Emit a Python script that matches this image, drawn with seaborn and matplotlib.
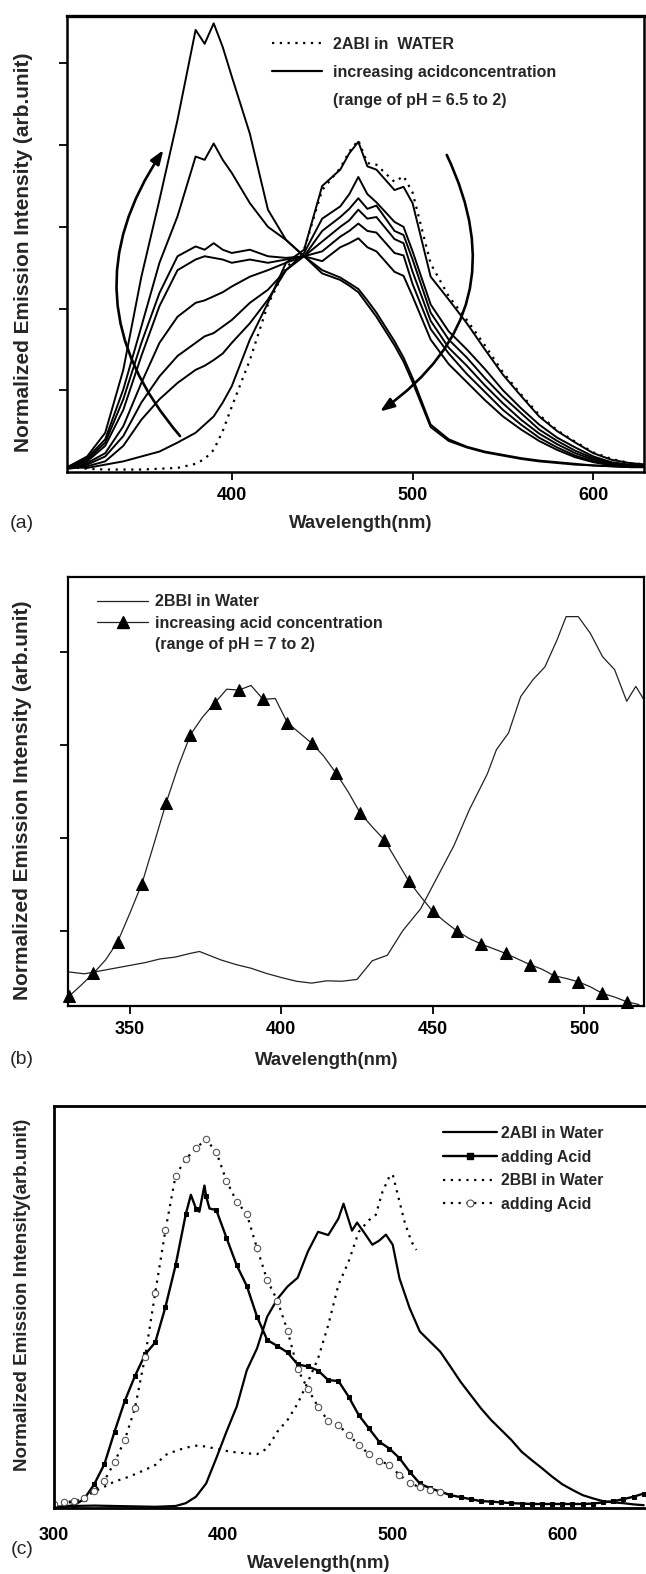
import matplotlib
matplotlib.use("Agg")
import matplotlib.pyplot as plt
import seaborn as sns
from matplotlib.lines import Line2D
from matplotlib.patches import FancyArrowPatch

# ---------- panel (a): 2ABI, water + increasing acid ----------
wl_a = [310, 320, 330, 340, 350, 360, 370, 380, 385, 390, 395, 400, 410, 420, 430, 440,
        450, 460, 465, 470, 475, 480, 490, 495, 500, 510, 520, 530, 540, 550, 560, 570,
        580, 590, 600, 610, 620, 630]

abi_water = [0.06, 0.04, 0.03, 0.03, 0.03, 0.04, 0.05, 0.10, 0.16, 0.27, 0.50, 0.80, 1.37, 2.05,
             2.50, 2.72, 3.45, 3.72, 3.92, 4.06, 3.78, 3.76, 3.55, 3.62, 3.42, 2.55, 2.15, 1.86,
             1.55, 1.22, 0.95, 0.70, 0.51, 0.37, 0.24, 0.16, 0.11, 0.09]

abi_acid_1 = [0.07, 0.19, 0.48, 1.25, 2.39, 3.33, 4.31, 5.41, 5.24, 5.49, 5.20, 4.84, 4.14, 3.21,
              2.84, 2.64, 2.43, 2.35, 2.28, 2.20, 2.05, 1.90, 1.55, 1.35, 1.10, 0.55, 0.38, 0.30,
              0.24, 0.20, 0.16, 0.13, 0.11, 0.09, 0.08, 0.07, 0.06, 0.06]
abi_acid_2 = [0.07, 0.17, 0.40, 1.01, 1.78, 2.56, 3.13, 3.86, 3.82, 4.02, 3.82, 3.66, 3.29, 3.00,
              2.84, 2.64, 2.47, 2.38, 2.31, 2.24, 2.10, 1.95, 1.60, 1.40, 1.15, 0.58, 0.40, 0.31,
              0.25, 0.21, 0.17, 0.14, 0.12, 0.10, 0.08, 0.07, 0.06, 0.06]
abi_acid_3 = [0.06, 0.15, 0.36, 0.89, 1.58, 2.19, 2.64, 2.76, 2.72, 2.80, 2.72, 2.68, 2.72, 2.64,
              2.62, 2.64, 2.58, 2.75, 2.80, 2.86, 2.75, 2.70, 2.45, 2.40, 2.15, 1.62, 1.32, 1.10,
              0.88, 0.68, 0.52, 0.38, 0.27, 0.18, 0.12, 0.08, 0.06, 0.06]
abi_acid_4 = [0.06, 0.13, 0.32, 0.76, 1.42, 2.03, 2.47, 2.60, 2.64, 2.62, 2.60, 2.56, 2.60, 2.56,
              2.60, 2.64, 2.70, 2.88, 2.95, 3.04, 2.95, 2.93, 2.68, 2.65, 2.30, 1.75, 1.45, 1.20,
              0.98, 0.76, 0.58, 0.42, 0.30, 0.20, 0.13, 0.09, 0.07, 0.06]
abi_acid_5 = [0.05, 0.11, 0.23, 0.56, 1.09, 1.58, 1.90, 2.07, 2.10, 2.15, 2.20, 2.27, 2.39, 2.47,
              2.56, 2.64, 2.82, 3.00, 3.08, 3.21, 3.10, 3.12, 2.85, 2.80, 2.45, 1.85, 1.52, 1.30,
              1.06, 0.84, 0.64, 0.47, 0.34, 0.23, 0.15, 0.10, 0.07, 0.07]
abi_acid_6 = [0.05, 0.09, 0.19, 0.44, 0.85, 1.17, 1.42, 1.58, 1.66, 1.70, 1.78, 1.86, 2.07, 2.23,
              2.47, 2.64, 2.95, 3.12, 3.22, 3.35, 3.22, 3.26, 2.95, 2.90, 2.60, 1.95, 1.62, 1.40,
              1.15, 0.92, 0.72, 0.52, 0.38, 0.26, 0.17, 0.11, 0.08, 0.07]
abi_acid_7 = [0.04, 0.07, 0.13, 0.32, 0.64, 0.89, 1.09, 1.25, 1.30, 1.37, 1.45, 1.58, 1.82, 2.11,
              2.47, 2.68, 3.10, 3.25, 3.40, 3.61, 3.40, 3.30, 3.06, 3.00, 2.70, 2.05, 1.72, 1.50,
              1.26, 1.00, 0.78, 0.58, 0.42, 0.30, 0.19, 0.12, 0.09, 0.08]
abi_acid_8 = [0.06, 0.05, 0.09, 0.13, 0.19, 0.25, 0.36, 0.48, 0.58, 0.68, 0.85, 1.05, 1.62, 2.07,
              2.56, 2.72, 3.50, 3.70, 3.90, 4.04, 3.74, 3.70, 3.45, 3.49, 3.29, 2.39, 2.11, 1.82,
              1.50, 1.19, 0.93, 0.68, 0.50, 0.36, 0.23, 0.15, 0.11, 0.09]
abi_acid_curves = [abi_acid_1, abi_acid_2, abi_acid_3, abi_acid_4,
                   abi_acid_5, abi_acid_6, abi_acid_7, abi_acid_8]

# ---------- panel (b): 2BBI, water + increasing acid ----------
wl_b_water = [330, 335, 340, 345, 350, 355, 360, 365, 370, 373, 380, 385, 390, 395, 400, 405,
              410, 415, 420, 425, 430, 435, 440, 446, 451, 457, 462, 468, 471, 475, 479, 483,
              487, 491, 494, 498, 502, 506, 510, 514, 517, 520]
bbi_water_b = [0.56, 0.54, 0.57, 0.60, 0.63, 0.66, 0.70, 0.72, 0.76, 0.78, 0.69, 0.64, 0.60, 0.545,
               0.50, 0.46, 0.44, 0.465, 0.46, 0.48, 0.68, 0.74, 1.00, 1.24, 1.55, 1.92, 2.30, 2.69,
               2.95, 3.13, 3.52, 3.70, 3.84, 4.13, 4.38, 4.38, 4.20, 3.95, 3.81, 3.47, 3.63, 3.47]

wl_b_acid = [330, 334, 338, 342, 346, 350, 354, 358, 362, 366, 370, 374, 378, 382, 386, 390,
             394, 398, 402, 406, 410, 414, 418, 422, 426, 430, 434, 438, 442, 446, 450, 454,
             458, 462, 466, 470, 474, 478, 482, 486, 490, 494, 498, 502, 506, 510, 514, 518]
bbi_acid_b = [0.30, 0.42, 0.545, 0.69, 0.885, 1.19, 1.51, 1.94, 2.38, 2.77, 3.11, 3.30, 3.45, 3.60,
              3.59, 3.64, 3.49, 3.50, 3.24, 3.13, 3.02, 2.88, 2.70, 2.50, 2.27, 2.12, 1.98, 1.76,
              1.54, 1.37, 1.21, 1.10, 1.00, 0.92, 0.86, 0.81, 0.76, 0.70, 0.64, 0.59, 0.52, 0.49,
              0.455, 0.40, 0.33, 0.29, 0.24, 0.21]

# ---------- panel (c): both molecules ----------
wl_c_abi_water = [300, 312, 324, 336, 348, 360, 372, 378, 384, 390, 396, 402, 408, 414, 420, 426,
                  432, 438, 444, 450, 456, 462, 468, 471, 476, 479, 484, 488, 492, 496, 500, 504,
                  510, 516, 522, 528, 534, 540, 546, 552, 558, 564, 570, 576, 582, 588, 594, 600,
                  606, 612, 618, 624, 630, 636, 642, 648]
abi_water_c = [0.003, 0.005, 0.006, 0.005, 0.004, 0.003, 0.005, 0.012, 0.028, 0.061, 0.124, 0.190,
               0.252, 0.343, 0.397, 0.476, 0.520, 0.551, 0.573, 0.638, 0.687, 0.679, 0.720, 0.757,
               0.690, 0.710, 0.680, 0.655, 0.665, 0.680, 0.655, 0.571, 0.497, 0.439, 0.414, 0.389,
               0.352, 0.314, 0.281, 0.248, 0.219, 0.194, 0.169, 0.140, 0.119, 0.099, 0.078, 0.059,
               0.045, 0.032, 0.024, 0.017, 0.014, 0.012, 0.009, 0.007]

wl_c_abi_acid = [300, 306, 312, 318, 324, 330, 336, 342, 348, 354, 360, 366, 372, 378, 381, 384,
                 386, 389, 390, 392, 396, 402, 408, 414, 420, 426, 432, 438, 444, 450, 456, 462,
                 468, 474, 480, 486, 492, 498, 504, 510, 516, 522, 528, 534, 540, 546, 552, 558,
                 564, 570, 576, 582, 588, 594, 600, 606, 612, 618, 624, 630, 636, 642, 648]
abi_acid_c = [0.001, 0.003, 0.007, 0.022, 0.059, 0.109, 0.190, 0.266, 0.328, 0.382, 0.412, 0.500,
              0.604, 0.731, 0.779, 0.745, 0.737, 0.802, 0.775, 0.745, 0.741, 0.672, 0.604, 0.552,
              0.476, 0.418, 0.403, 0.387, 0.357, 0.352, 0.342, 0.318, 0.316, 0.277, 0.231, 0.198,
              0.165, 0.148, 0.124, 0.090, 0.061, 0.049, 0.041, 0.032, 0.027, 0.022, 0.017, 0.016,
              0.014, 0.012, 0.011, 0.010, 0.010, 0.010, 0.010, 0.010, 0.010, 0.011, 0.014, 0.017,
              0.022, 0.028, 0.036]

wl_c_bbi_water = [300, 312, 318, 324, 330, 336, 342, 348, 354, 360, 366, 372, 378, 384, 390, 396,
                  402, 408, 414, 420, 426, 432, 438, 444, 450, 456, 462, 468, 474, 480, 486, 490,
                  494, 498, 500, 503, 507, 511, 514]
bbi_water_c = [0.010, 0.015, 0.025, 0.041, 0.053, 0.066, 0.074, 0.084, 0.095, 0.107, 0.132, 0.142,
               0.150, 0.155, 0.153, 0.147, 0.142, 0.138, 0.136, 0.134, 0.148, 0.190, 0.219, 0.260,
               0.314, 0.372, 0.455, 0.555, 0.613, 0.687, 0.716, 0.729, 0.787, 0.824, 0.830, 0.779,
               0.712, 0.663, 0.642]

wl_c_bbi_acid = [300, 306, 312, 318, 324, 330, 336, 342, 348, 354, 360, 366, 372, 378, 384, 390,
                 396, 402, 408, 414, 420, 426, 432, 438, 444, 450, 456, 462, 468, 474, 480, 486,
                 492, 498, 504, 510, 516, 522, 528]
bbi_acid_c = [0.009, 0.014, 0.017, 0.024, 0.043, 0.068, 0.114, 0.169, 0.248, 0.376, 0.536, 0.691,
              0.827, 0.868, 0.895, 0.917, 0.885, 0.814, 0.762, 0.731, 0.646, 0.567, 0.516, 0.441,
              0.345, 0.296, 0.252, 0.216, 0.206, 0.182, 0.157, 0.134, 0.117, 0.108, 0.082, 0.063,
              0.051, 0.045, 0.041]

W, H = 646, 1574
DOTS = (0, (1, 2.5))


def box(left, top, right, bottom):
    # pixel box -> figure fraction
    return [left / W, 1 - bottom / H, (right - left) / W, (bottom - top) / H]


def style_axis(ax, xticks, yticks, spine_lw, tick_len, tick_pad):
    ax.set_xticks(xticks)
    ax.set_yticks(yticks)
    ax.set_yticklabels([])
    ax.tick_params(axis="x", direction="out", length=tick_len, width=1.3,
                   pad=tick_pad, labelsize=13, colors="black")
    ax.tick_params(axis="y", direction="out", length=5.5, width=1.3, colors="black")
    for lab in ax.get_xticklabels():
        lab.set_fontweight("bold")
    for sp in ax.spines.values():
        sp.set_linewidth(spine_lw)
        sp.set_color("black")
    ax.grid(False)


def set_labels(ax, ylabel, ysize, xpos, ypos):
    ax.set_xlabel("Wavelength(nm)", fontsize=13.4, fontweight="bold")
    ax.xaxis.set_label_coords(xpos[0], xpos[1])
    ax.xaxis.label.set_va("center")
    ax.set_ylabel(ylabel, fontsize=ysize, fontweight="bold")
    ax.yaxis.set_label_coords(ypos[0], ypos[1])
    ax.yaxis.label.set_va("center")


sns.set_theme(style="ticks")
plt.rcParams["font.family"] = ["Liberation Sans", "DejaVu Sans"]

fig = plt.figure(figsize=(W / 100, H / 100), dpi=100)

# ---- (a) ----
ax_a = fig.add_axes(box(66.7, 16, 644, 472))
sns.lineplot(x=wl_a, y=abi_water, ax=ax_a, color="black", lw=1.6, linestyle=DOTS,
             estimator=None, sort=False)
for curve in abi_acid_curves:
    sns.lineplot(x=wl_a, y=curve, ax=ax_a, color="black", lw=1.4,
                 estimator=None, sort=False)
ax_a.set_xlim(308.7, 628)
ax_a.set_ylim(0, 5.58)
style_axis(ax_a, [400, 500, 600], [1, 2, 3, 4, 5], 1.8, 5.5, 5)
ax_a.spines["top"].set_linewidth(2.4)
set_labels(ax_a, "Normalized Emission Intensity (arb.unit)", 15,
           (0.509, -0.114), (-0.074, 0.481))

arrow_style = "-|>,head_length=0.6,head_width=0.22"
ax_a.add_patch(FancyArrowPatch((371.4, 0.44), (362.2, 3.94), connectionstyle="arc3,rad=-0.38",
                               arrowstyle=arrow_style, mutation_scale=14, lw=1.9,
                               color="black", shrinkA=0, shrinkB=0))
ax_a.add_patch(FancyArrowPatch((518.9, 3.88), (482, 0.74), connectionstyle="arc3,rad=-0.42",
                               arrowstyle=arrow_style, mutation_scale=14, lw=1.9,
                               color="black", shrinkA=0, shrinkB=0))

handles_a = [Line2D([], [], color="black", lw=1.6, linestyle=DOTS),
             Line2D([], [], color="black", lw=1.6),
             Line2D([], [], color="none")]
labels_a = ["2ABI in  WATER", "increasing acidconcentration", "(range of pH = 6.5 to 2)"]
ax_a.legend(handles_a, labels_a, loc="upper left", bbox_to_anchor=(0.3556, 0.954),
            frameon=False, borderpad=0, borderaxespad=0, handlelength=3.1,
            handletextpad=0.7, labelspacing=0.81, prop={"weight": "bold", "size": 11.5})

# ---- (b) ----
ax_b = fig.add_axes(box(68, 577, 644, 1006))
sns.lineplot(x=wl_b_water, y=bbi_water_b, ax=ax_b, color="#222222", lw=0.9,
             estimator=None, sort=False)
sns.lineplot(x=wl_b_acid, y=bbi_acid_b, ax=ax_b, color="#222222", lw=0.9, marker="^",
             markersize=9, markerfacecolor="black", markeredgecolor="black", markevery=2,
             estimator=None, sort=False, clip_on=False)
ax_b.set_xlim(329.6, 519.7)
ax_b.set_ylim(0.194, 4.806)
style_axis(ax_b, [350, 400, 450, 500], [1, 2, 3, 4], 1.6, 5.5, 5)
set_labels(ax_b, "Normalized Emission Intensity (arb.unit)", 15,
           (0.449, -0.126), (-0.0786, 0.480))

handles_b = [Line2D([], [], color="#222222", lw=0.9),
             Line2D([], [], color="#222222", lw=0.9, marker="^", markersize=9,
                    markerfacecolor="black", markeredgecolor="black"),
             Line2D([], [], color="none")]
labels_b = ["2BBI in Water", "increasing acid concentration", "(range of pH = 7 to 2)"]
ax_b.legend(handles_b, labels_b, loc="upper left", bbox_to_anchor=(0.0503, 0.960),
            frameon=False, borderpad=0, borderaxespad=0, handlelength=3.2, numpoints=1,
            handletextpad=0.44, labelspacing=0.40, prop={"weight": "bold", "size": 11.5})

# ---- (c) ----
ax_c = fig.add_axes(box(53.5, 1106, 647.1, 1508))
sns.lineplot(x=wl_c_abi_water, y=abi_water_c, ax=ax_c, color="black", lw=1.6,
             estimator=None, sort=False)
abi_marks = [i for i, x in enumerate(wl_c_abi_acid) if (x - 300) % 6 == 0]
sns.lineplot(x=wl_c_abi_acid, y=abi_acid_c, ax=ax_c, color="black", lw=1.7, marker="s",
             markersize=3.2, markerfacecolor="black", markeredgecolor="black",
             markevery=abi_marks, estimator=None, sort=False)
sns.lineplot(x=wl_c_bbi_water, y=bbi_water_c, ax=ax_c, color="black", lw=1.6, linestyle=DOTS,
             estimator=None, sort=False)
sns.lineplot(x=wl_c_bbi_acid, y=bbi_acid_c, ax=ax_c, color="black", lw=1.6, linestyle=DOTS,
             marker="o", markersize=4.6, markerfacecolor="white", markeredgecolor="#555555",
             markeredgewidth=0.8, estimator=None, sort=False)
ax_c.set_xlim(300, 650)
ax_c.set_ylim(0, 1)
style_axis(ax_c, [300, 400, 500, 600], [], 2.0, 0, 14)
set_labels(ax_c, "Normalized Emission Intensity(arb.unit)", 13.5,
           (0.447, -0.137), (-0.0519, 0.531))

handles_c = [Line2D([], [], color="black", lw=1.6),
             Line2D([], [], color="black", lw=1.7, marker="s", markersize=4,
                    markerfacecolor="black"),
             Line2D([], [], color="black", lw=1.6, linestyle=DOTS),
             Line2D([], [], color="black", lw=1.6, linestyle=DOTS, marker="o", markersize=5,
                    markerfacecolor="white", markeredgecolor="#555555", markeredgewidth=0.8)]
labels_c = ["2ABI in Water", "adding Acid", "2BBI in Water", "adding Acid"]
ax_c.legend(handles_c, labels_c, loc="upper left", bbox_to_anchor=(0.656, 0.9506),
            frameon=False, borderpad=0, borderaxespad=0, handlelength=3.4, numpoints=1,
            handletextpad=0.3, labelspacing=0.55, prop={"weight": "bold", "size": 11.4})

# panel letters
for letter, ypx in [("(a)", 524), ("(b)", 1059), ("(c)", 1549)]:
    fig.text(22 / W, 1 - ypx / H, letter, ha="center", va="center", fontsize=14,
             fontweight="normal")

fig.savefig("out.png", dpi=100)
plt.close(fig)
